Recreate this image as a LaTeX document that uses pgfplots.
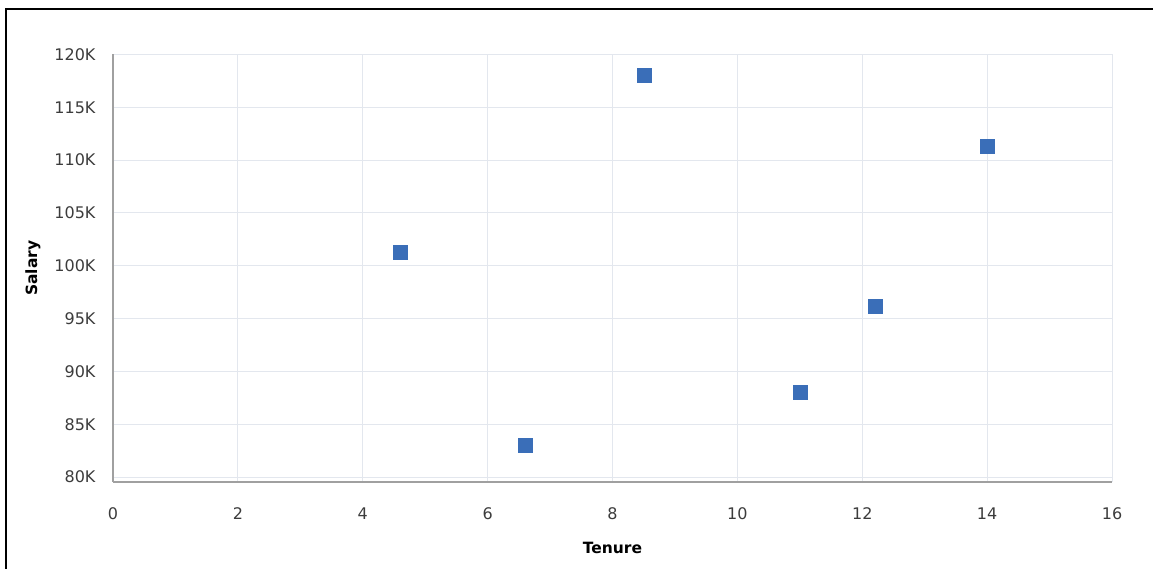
\documentclass[border=0pt]{standalone}
\usepackage{pgfplots}
\pgfplotsset{compat=1.18}
\usepackage{fontspec}
\setmainfont{DejaVu Sans}
\definecolor{mk}{HTML}{3A6EB8}
\definecolor{gridc}{HTML}{E3E7EE}
\definecolor{axc}{HTML}{A0A0A0}
\definecolor{tkc}{HTML}{3C3C3C}
\begin{document}
\begin{tikzpicture}[x=1pt,y=1pt]
\path[use as bounding box] (-113,-87) rectangle (1040,482);
\draw[black,line width=1.3pt] (-107,-87) -- (-107,473) -- (1040,473);
\begin{axis}[
  at={(0,0)}, anchor=origin,
  scale only axis,
  width=999pt, height=427.5pt,
  xmin=0, xmax=16, ymin=79.53, ymax=120,
  xtick={0,2,...,16},
  ytick={80,85,...,120},
  yticklabel={\pgfmathprintnumber{\tick}K},
  /pgf/number format/assume math mode=true,
  axis x line=bottom, axis y line=left,
  axis line style={axc, line width=1.2pt, -},
  tick style={draw=none},
  major tick length=0pt,
  grid=major,
  major grid style={gridc, line width=1pt},
  tick label style={font=\fontsize{16}{18}\selectfont, text=tkc},
  xticklabel style={yshift=-22pt},
  yticklabel style={xshift=-14pt},
  xlabel={\textbf{Tenure}},
  ylabel={\textbf{Salary}},
  label style={font=\fontsize{15.5}{17}\selectfont\bfseries},
  xlabel style={at={(axis description cs:0.5,-0.1544)}, anchor=center},
  ylabel style={at={(axis description cs:-0.0801,0.5)}, anchor=center},
  clip=false,
]
\addplot[only marks, mark=square*, mark size=7pt, mark options={fill=mk, draw=mk}]
  coordinates {(4.6,101.3) (6.6,83.05) (8.5,118.05) (11,88.0) (12.2,96.2) (14,111.3)};
\end{axis}
\end{tikzpicture}
\end{document}
